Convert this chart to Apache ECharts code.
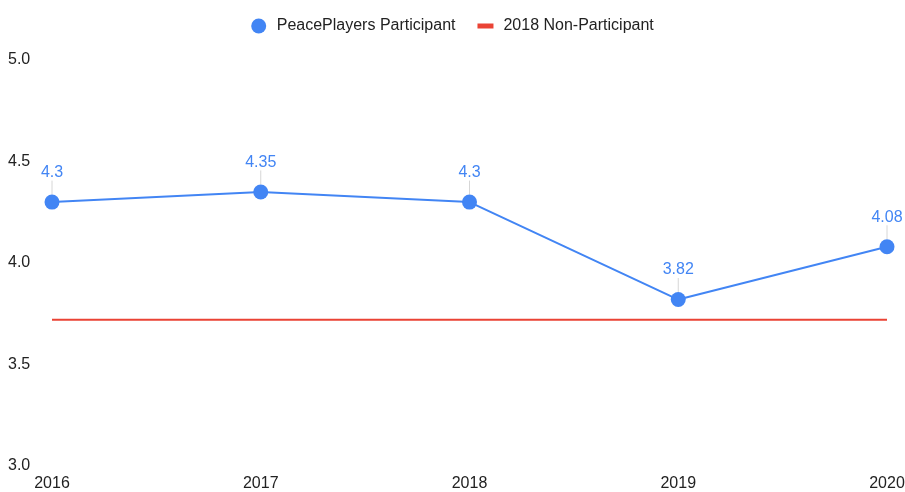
<!DOCTYPE html>
<html>
<head>
<meta charset="utf-8">
<script src="https://cdn.jsdelivr.net/npm/echarts@6/dist/echarts.min.js"></script>
<style>html,body{margin:0;padding:0;background:#fff;}#main{width:905px;height:492px;}</style>
</head>
<body>
<div id="main"></div>
<script>
var years = ['2016', '2017', '2018', '2019', '2020'];
var participant = [4.3, 4.35, 4.3, 3.82, 4.08];
var nonParticipant = [3.72, 3.72, 3.72, 3.72, 3.72];
var yTicks = { min: 3, max: 5, interval: 0.5 };

var chart = echarts.init(document.getElementById('main'));
var font = 'Liberation Sans, Arial, sans-serif';
chart.setOption({
  animation: false,
  textStyle: { fontFamily: font },
  legend: {
    top: 13,
    left: 'center',
    itemWidth: 16,
    itemHeight: 15,
    itemGap: 22,
    textStyle: { fontSize: 16, color: '#222', fontFamily: font, padding: [0, 0, 0, 5] },
    data: [
      { name: 'PeacePlayers Participant', icon: 'circle' },
      { name: '2018 Non-Participant', icon: 'path://M0,0 L0,0 M0,5 L16,5 L16,10 L0,10 Z M16,15 L16,15' }
    ]
  },
  grid: { left: 52, right: 18, top: 60, bottom: 26, containLabel: false, outerBoundsMode: 'none' },
  xAxis: {
    type: 'category',
    data: years,
    boundaryGap: false,
    axisLine: { show: false },
    axisTick: { show: false },
    axisLabel: { color: '#222', fontSize: 16, margin: 10, fontFamily: font }
  },
  yAxis: {
    type: 'value',
    min: yTicks.min,
    max: yTicks.max,
    interval: yTicks.interval,
    splitLine: { show: false },
    axisLine: { show: false },
    axisTick: { show: false },
    axisLabel: {
      color: '#222', fontSize: 16, align: 'left', margin: 44, fontFamily: font,
      formatter: function (v) { return v.toFixed(1); }
    }
  },
  series: [
    {
      name: '2018 Non-Participant',
      type: 'line',
      data: nonParticipant,
      symbol: 'none',
      lineStyle: { color: '#EA4335', width: 2 },
      itemStyle: { color: '#EA4335' },
      z: 1
    },
    {
      name: 'PeacePlayers Participant',
      type: 'line',
      data: participant,
      symbol: 'circle',
      symbolSize: 15,
      lineStyle: { color: '#4285F4', width: 2 },
      itemStyle: { color: '#4285F4' },
      label: {
        show: true,
        position: 'top',
        distance: 3,
        color: '#4285F4',
        fontSize: 16,
        fontFamily: font
      },
      labelLayout: { dy: -11 },
      labelLine: { show: true, lineStyle: { color: '#d6d6d6', width: 1 } },
      z: 2
    }
  ]
});
</script>
</body>
</html>
